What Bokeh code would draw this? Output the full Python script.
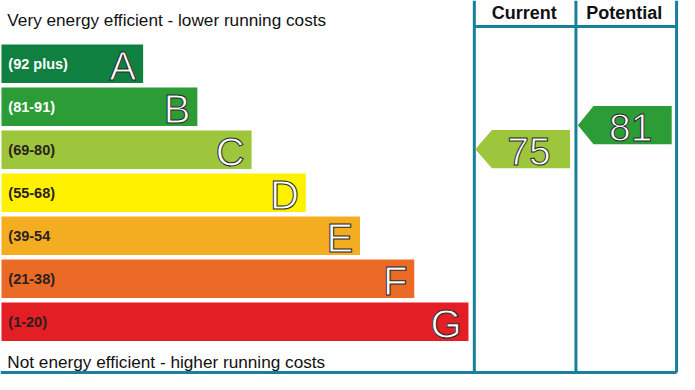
from bokeh.plotting import figure
from bokeh.models import Range1d, ColumnDataSource
from bokeh.core.properties import value
from bokeh.embed import file_html
from bokeh.resources import INLINE

# ---- data ----
bands = ["A", "B", "C", "D", "E", "F", "G"]
ranges = ["(92 plus)", "(81-91)", "(69-80)", "(55-68)", "(39-54", "(21-38)", "(1-20)"]
lower = [92, 81, 69, 55, 39, 21, 1]
colors = ["#0f8040", "#2b9c36", "#9dc63c", "#fff100", "#f4ac21", "#eb6a26", "#e31e25"]
label_colors = ["#ffffff", "#ffffff", "#2a2020", "#2a2020", "#2a2020", "#2a2020", "#2a2020"]
current = 75
potential = 81
header = ["Current", "Potential"]
top_text = "Very energy efficient - lower running costs"
bottom_text = "Not energy efficient - higher running costs"

# ---- layout (reference pixel space) ----
W, H = 695, 390
TEAL = "#18809b"
band_top0, pitch, bh = 46, 44.83, 40
bar_left, bar_r0, bar_step = 1, 146, 55.5

def band_of(v):
    for i, lo in enumerate(lower):
        if v >= lo:
            return i
    return len(lower) - 1

def arrow_y(v):
    return 50.8 + (100 - v) * 4.17

p = figure(width=679, height=374, output_backend="svg", toolbar_location=None,
           x_range=Range1d(0, W), y_range=Range1d(H, 0), min_border=0)
p.axis.visible = False
p.grid.visible = False
p.outline_line_color = None
p.background_fill_color = "white"
p.border_fill_color = "white"

tops = [band_top0 + i * pitch for i in range(len(bands))]
rights = [bar_r0 + i * bar_step for i in range(len(bands))]
src = ColumnDataSource(dict(
    left=[bar_left] * len(bands), right=rights,
    top=tops, bottom=[t + bh for t in tops],
    ymid=[t + bh / 2 for t in tops],
    color=colors, lab=ranges, labc=label_colors, band=bands,
    lx=[8] * len(bands), letx=[r - 7 for r in rights]))

p.quad(left="left", right="right", top="top", bottom="bottom", fill_color="color",
       line_color=None, source=src)
p.text(x="lx", y="ymid", text="lab", text_color="labc", text_font=value("Liberation Sans"),
       text_font_style="bold", text_font_size="14.5px", text_baseline="middle", source=src)
p.text(x="letx", y="ymid", text="band", text_color="white", text_outline_color="#2a2a2a",
       text_font=value("Liberation Sans"), text_font_size="40px", text_align="right",
       text_baseline="middle", y_offset=2, source=src)

# top/bottom captions
p.text(x=[7], y=[20], text=[top_text], text_font=value("Liberation Sans"),
       text_font_size="17.2px", text_baseline="middle", text_color="#111111")
p.text(x=[7], y=[377], text=[bottom_text], text_font=value("Liberation Sans"),
       text_font_size="17.2px", text_baseline="middle", text_color="#111111")

# frame lines
col_x = [485, 589, 692]
for x in col_x:
    p.line([x, x], [0, 388], line_color=TEAL, line_width=3)
p.line([485, 692], [27, 27], line_color=TEAL, line_width=3)
p.line([0, 692], [388, 388], line_color=TEAL, line_width=3)

p.text(x=[(col_x[0] + col_x[1]) / 2 - 1, (col_x[1] + col_x[2]) / 2 - 2], y=[13, 13], text=header,
       text_font=value("Liberation Sans"), text_font_style="bold", text_font_size="18px",
       text_align="center", text_baseline="middle", text_color="#111111")

# arrows
def arrow(v, x0, tip, x1):
    yc = arrow_y(v)
    c = colors[band_of(v)]
    xs = [tip, x0, x1, x1, x0]
    ys = [yc, yc - bh / 2, yc - bh / 2, yc + bh / 2, yc + bh / 2]
    p.patch(xs, ys, fill_color=c, line_color=None)
    p.text(x=[(x0 + x1) / 2 - 2], y=[yc], text=[str(v)], text_color="white",
           text_outline_color="#2a2a2a", text_font=value("Liberation Sans"),
           text_font_size="39px", text_align="center", text_baseline="middle", y_offset=2)

arrow(current, 503, 486, 583)
arrow(potential, 607, 591, 687)

open("out.html", "w").write(file_html(p, INLINE))
